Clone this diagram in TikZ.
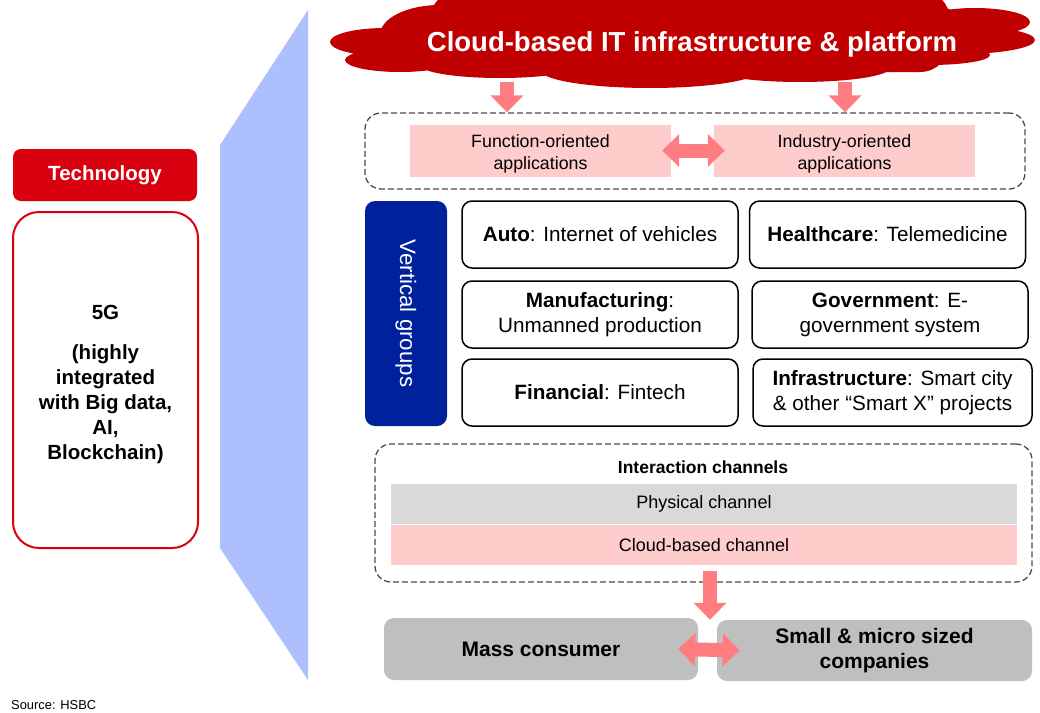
\documentclass[tikz,border=0pt]{standalone}
\usepackage{fontspec}
\setmainfont{Liberation Sans}
\usetikzlibrary{positioning,arrows.meta}

\definecolor{cloudred}{HTML}{C00000}
\definecolor{techred}{HTML}{D9000F}
\definecolor{arrowpink}{HTML}{FF7C80}
\definecolor{lightpink}{HTML}{FFCCCC}
\definecolor{lightblue}{HTML}{ADBFFC}
\definecolor{darkblue}{HTML}{00219C}
\definecolor{chgray}{HTML}{D9D9D9}
\definecolor{boxgray}{HTML}{BFBFBF}

% push a block of lines a little lower inside its node
\newcommand{\lowered}[1]{\raisebox{0pt}[\dimexpr\height+8pt\relax][\depth]{\begin{tabular}{@{}c@{}}#1\end{tabular}}}

\begin{document}
\begin{tikzpicture}[x=1pt, y=-1pt,
  every node/.style={align=center, inner sep=0pt, font=\fontsize{20.7}{25}\selectfont},
  techbox/.style={fill=techred, rounded corners=8pt, text=white, minimum width=184, minimum height=52, font=\bfseries\fontsize{20.5}{24}\selectfont},
  appbox/.style={fill=lightpink, minimum width=261, minimum height=51, font=\fontsize{17.8}{22}\selectfont},
  vgbox/.style={draw, fill=white, line width=1.5pt, rounded corners=10pt, minimum width=276, minimum height=67},
  dashbox/.style={draw=black!70, line width=1.3pt, dash pattern=on 6pt off 3pt, rounded corners=16pt},
  chband/.style={minimum width=626, minimum height=40.5, font=\fontsize{18}{22}\selectfont},
  custbox/.style={fill=boxgray, rounded corners=10pt, minimum width=314, minimum height=62, font=\bfseries\fontsize{21}{25}\selectfont},
  blockarrow/.style={draw=arrowpink, line width=14pt, -{Triangle[width=32pt,length=17pt]}},
  dblarrow/.style={draw=arrowpink, line width=14pt, {Triangle[width=32pt,length=17pt]}-{Triangle[width=32pt,length=17pt]}}
]
\useasboundingbox (0,0) rectangle (1040,712);

% left side
\fill[lightblue] (220,145) -- (308,10) -- (308,680) -- (220,548) -- cycle;
\node[techbox] (tech) at (105,175) {Technology};
\node[draw=techred, line width=2pt, rounded corners=26pt, minimum width=185, minimum height=336,
  font=\bfseries\fontsize{20.5}{25}\selectfont] (fiveg) at (105.5,380)
  {\lowered{5G\\[15pt](highly\\integrated\\with Big data,\\AI,\\Blockchain)}};

% cloud and applications
\fill[cloudred] [rounded corners=30pt] (430,-10) rectangle (950,72);
\fill[cloudred] (440,35) ellipse [x radius=60, y radius=30]
  (385,42) ellipse [x radius=55, y radius=14]
  (400,60) ellipse [x radius=55, y radius=12]
  (470,22) ellipse [x radius=80, y radius=18]
  (500,65) ellipse [x radius=80, y radius=13]
  (650,70) ellipse [x radius=110, y radius=18]
  (800,68) ellipse [x radius=90, y radius=14]
  (930,35) ellipse [x radius=50, y radius=28]
  (960,40) ellipse [x radius=75, y radius=14]
  (930,55) ellipse [x radius=60, y radius=10]
  (975,22) ellipse [x radius=55, y radius=14];
\node[text=white, font=\bfseries\fontsize{27.5}{32}\selectfont] (cloud) at (692,44) {Cloud-based IT infrastructure \& platform};
\node[dashbox, minimum width=660, minimum height=76] (appframe) at (695,151) {};
\node[appbox] (fa) at (540.5,150.5) {\lowered{Function-oriented\\applications}};
\node[appbox] (ia) at (844.5,150.5) {\lowered{Industry-oriented\\applications}};
\coordinate (c1) at (507,82);
\coordinate (c2) at (845,82);
\draw[blockarrow] (c1) -- (c1 |- appframe.north);
\draw[blockarrow] (c2) -- (c2 |- appframe.north);
\draw[dblarrow] ([xshift=-9pt]fa.east) -- ([xshift=11pt]ia.west);

% vertical groups
\node[fill=darkblue, rounded corners=10pt, rotate=-90, minimum width=225, minimum height=82,
  text=white, font=\fontsize{22.3}{26}\selectfont] (vg) at (406,313.5) {Vertical groups};
\node[vgbox] (auto) at (600,234.5) {\textbf{Auto}: Internet of vehicles};
\node[vgbox] (health) at (887.5,234.5) {\textbf{Healthcare}: Telemedicine};
\node[vgbox] (manu) at (600,314.5) {\textbf{Manufacturing}:\\Unmanned production};
\node[vgbox] (gov) at (890,314.5) {\textbf{Government}: E-\\government system};
\node[vgbox] (fin) at (600,392.5) {\textbf{Financial}: Fintech};
\node[vgbox, minimum width=279] (infra) at (892.5,392.5) {\textbf{Infrastructure}: Smart city\\\& other “Smart X” projects};

% interaction channels
\node[dashbox, minimum width=657, minimum height=138] (chframe) at (703.5,513) {};
\node[font=\bfseries\fontsize{17.5}{21}\selectfont] (chtitle) at (703,467) {Interaction channels};
\node[chband, fill=chgray] (phys) at (704,504) {Physical channel};
\node[chband, fill=lightpink] (cloudch) at (704,545) {Cloud-based channel};

% customers
\node[custbox] (mass) at (541,649) {Mass consumer};
\node[custbox, minimum width=315, minimum height=61] (small) at (874.5,650.5) {Small \& micro sized\\companies};
\coordinate (d1) at (710,571);
\draw[blockarrow] (d1) -- (d1 |- small.north);
\draw[dblarrow] ([xshift=-20pt]mass.east) -- ([xshift=23pt]small.west);

\node[anchor=west, font=\fontsize{12.9}{15}\selectfont] (src) at (11,705) {Source: HSBC};
\end{tikzpicture}
\end{document}
